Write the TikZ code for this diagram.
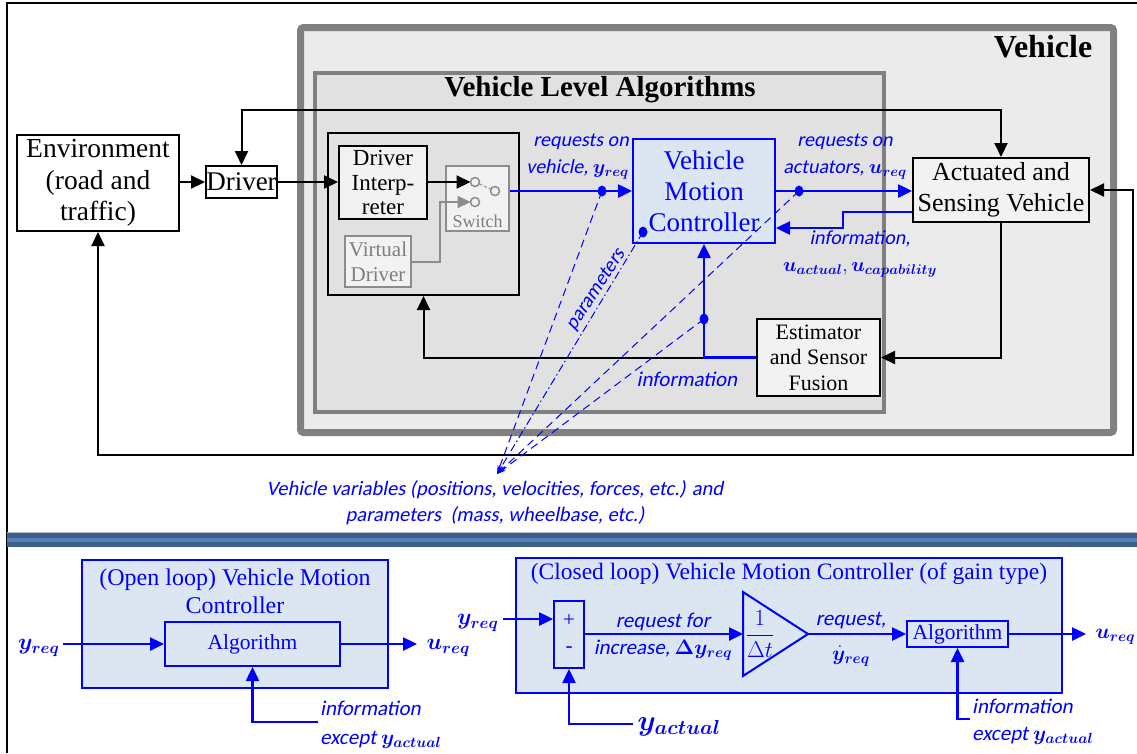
\RequirePackage{fix-cm}
\documentclass[tikz,border=0pt]{standalone}
\usepackage{amsmath, bm}
\usepackage{fontspec}
\setmainfont{Liberation Serif}
\newfontfamily\carlito{Carlito}[AutoFakeSlant=0.2]
\usetikzlibrary{arrows.meta, positioning, calc}

\definecolor{ctrlblue}{RGB}{0, 0, 255}
\definecolor{ctrlfill}{RGB}{220, 230, 242}
\definecolor{vehgray}{RGB}{128, 128, 128}
\definecolor{vehfill}{RGB}{235, 235, 235}
\definecolor{algfill}{RGB}{225, 225, 225}
\definecolor{boxfill}{RGB}{242, 242, 242}
\definecolor{swgray}{RGB}{140, 140, 140}
\definecolor{banddark}{RGB}{61, 95, 140}
\definecolor{bandlight}{RGB}{84, 128, 182}

\newcommand{\setfs}[2]{\fontsize{#1}{#2}\selectfont}

\tikzset{
  blk/.style={draw, line width=2pt, fill=boxfill, align=center, inner sep=0pt},
  ctrlbox/.style={draw=ctrlblue, line width=2pt, fill=ctrlfill, text=ctrlblue, align=center, inner sep=0pt},
  graybox/.style={draw=swgray, line width=2pt, fill=boxfill, text=swgray!90!black, align=center, inner sep=0pt},
  bluei/.style={text=ctrlblue, font={\carlito\itshape\setfs{20}{27}}, align=center, inner sep=0pt},
  arr/.style={-{Triangle[length=14pt,width=13pt]}, line width=2pt},
  arrboth/.style={{Triangle[length=14pt,width=13pt]}-{Triangle[length=14pt,width=13pt]}, line width=2pt},
  grayarr/.style={-{Triangle[length=13pt,width=12pt]}, line width=2pt, swgray},
  bline/.style={ctrlblue, line width=2.5pt},
  barr/.style={-{Triangle[length=14pt,width=13pt]}, line width=2.5pt, ctrlblue},
  vvline/.style={ctrlblue, line width=1pt, dash pattern=on 8pt off 5pt, -{Stealth[length=9pt,width=5pt]}},
  dotmark/.style={fill=ctrlblue}
}

\begin{document}
\begin{tikzpicture}[x=1pt, y=-1pt]
\useasboundingbox (0,0) rectangle (1137,753);

% frame
\draw[line width=2.5pt] (1137,3) -- (7,3) -- (7,753);

% Vehicle and algorithms boxes
\node[draw=vehgray, line width=7pt, fill=vehfill, rounded corners=3pt, minimum width=813, minimum height=405] (veh) at (707,230) {};
\node[font=\bfseries\setfs{32}{36}] (vehtitle) at (1043,47) {Vehicle};
\node[draw=vehgray, line width=4pt, fill=algfill, minimum width=569, minimum height=339] (vla) at (599.5,242.5) {};
\node[font=\bfseries\setfs{29}{32}] (vlatitle) at (600,90) {Vehicle Level Algorithms};
\node[draw, line width=2pt, minimum width=191, minimum height=162] (grp) at (423.5,214) {};

% blocks
\node[blk, fill=white, minimum width=162, minimum height=96, font=\setfs{27.5}{31.5}] (env) at (98,183) {Environment\\(road and\\traffic)};
\node[blk, fill=white, minimum width=71, minimum height=32, font=\setfs{27}{31}] (drv) at (241.5,182) {Driver};
\node[blk, minimum width=88, minimum height=73, font=\setfs{23}{24.5}] (di) at (383,182.5) {Driver\\Interp-\\reter};
\node[graybox, minimum width=63, minimum height=65] (sw) at (477.5,198.5) {};
\node[text=swgray!90!black, font=\setfs{18}{20}, inner sep=0pt] (swlab) at (477.5,221) {Switch};
\node[graybox, minimum width=66, minimum height=51, font=\setfs{21}{25}] (vd) at (378,261.5) {Virtual\\Driver};
\node[ctrlbox, minimum width=142, minimum height=104, font=\setfs{27}{31}] (vmc) at (704,191) {Vehicle\\Motion\\Controller};
\node[blk, minimum width=176, minimum height=64, font=\setfs{26}{31}] (asv) at (1001,190) {Actuated and\\Sensing Vehicle};
\node[blk, minimum width=123, minimum height=77, font=\setfs{22}{25.5}] (est) at (818.5,357.5) {Estimator\\and Sensor\\Fusion};

% switch
\coordinate (swin) at (475,182);
\coordinate (swalt) at (475,202);
\coordinate (swout) at (495,191);
\coordinate (swbend) at (440,202);
\draw[arr] (di.east |- swin) -- ([xshift=-4.5pt]swin);
\draw[grayarr] (vd.east) -| (swbend) -- ([xshift=-4.5pt]swalt);
\draw[swgray, line width=1pt, dash pattern=on 3pt off 2pt] (swin) -- (swout);
\foreach \c in {swin, swalt, swout}
  \draw[swgray, line width=1.5pt, fill=boxfill] (\c) circle[radius=4.5];

% main signal flow
\coordinate (fbtop) at (0,110);
\coordinate (fbright) at (1133,455);
\draw[arr] (env.east |- drv.west) -- (drv.west);
\draw[arr] (drv.east) -- (di.west |- drv.east);
\draw[arrboth] (drv.north) -- (drv.north |- fbtop) -| (asv.north);
\draw[arrboth] (env.south) |- (fbright) |- (asv.east);
\draw[arr] (asv.south) |- (est.east);
\coordinate (j) at (est.west -| vmc.south);
\draw[arr] (j) -| (grp.south);
\draw[bline] (est.west) -- (j);
\draw[barr] (j) -- (vmc.south);
\draw[barr] (sw.east |- vmc.west) -- (vmc.west);
\draw[barr] (vmc.east) -- (asv.west |- vmc.east);
\draw[barr] ([yshift=-22pt]asv.west) -- ++(-69,0) |- ([yshift=-37pt]vmc.east);

% signal labels
\node[bluei, align=right, anchor=east] (yreqlab) at (629,157) {requests on\\vehicle, $\bm{y}_{\bm{req}}$};
\node[bluei] (ureqlab) at (845,157) {requests on\\actuators, $\bm{u}_{\bm{req}}$};
\node[bluei] (infolab) at (860,254) {information,\\$\bm{u}_{\bm{actual}}, \bm{u}_{\bm{capability}}$};
\node[bluei, font={\carlito\itshape\setfs{21}{27}}] (estinfo) at (687,379) {information};

% vehicle variables
\coordinate (dyreq) at (602,191);
\coordinate (dureq) at (799,191);
\coordinate (dparam) at (643,232);
\coordinate (dinfo) at (704,319);
\coordinate (vv) at (497,474);
\foreach \c in {dyreq, dureq, dparam, dinfo}
  \fill[dotmark] (\c) ellipse[x radius=4.5, y radius=5.5];
\draw[vvline] (dyreq) -- (vv);
\draw[vvline] (dureq) -- (vv);
\draw[vvline] (dinfo) -- (vv);
\draw[vvline, dash pattern=on 8pt off 3pt on 1.5pt off 3pt] (dparam) -- (vv);
\node[bluei, rotate=57] (paramlab) at (596,290) {parameters};
\node[bluei, font={\carlito\itshape\setfs{20.5}{26}}] (vvtext) at (495,503) {Vehicle variables (positions, velocities, forces, etc.) and\\parameters~~(mass, wheelbase, etc.)};

% separator
\fill[banddark] (7,532) rectangle (1137,547);
\fill[bandlight] (7,538) rectangle (1137,542);
\draw[line width=1pt, color=gray!50] (7,532) -- (1137,532);

% open loop controller
\node[ctrlbox, minimum width=306, minimum height=128] (olvmc) at (235,624) {};
\node[text=ctrlblue, font=\setfs{24}{28}, align=center] (oltitle) at (235,591) {(Open loop) Vehicle Motion\\Controller};
\node[ctrlbox, minimum width=175, minimum height=44, font=\setfs{21.5}{25}] (olalg) at (252.5,644) {Algorithm};
\coordinate (olin) at (63,644);
\coordinate (olout) at (417,644);
\coordinate (olinfo) at (318,722);
\draw[barr] (olin) -- (olalg.west);
\draw[barr] (olalg.east) -- (olout);
\draw[barr] (olinfo) -| (olalg.south);
\node[text=ctrlblue, font=\setfs{23}{26}, anchor=east] (olyreq) at (63,648) {$\bm{y}_{\bm{req}}$};
\node[text=ctrlblue, font=\setfs{23}{26}, anchor=west] (olureq) at (423,648) {$\bm{u}_{\bm{req}}$};
\node[bluei, align=left, anchor=west, font={\carlito\itshape\setfs{21}{29}}] (olinfotext) at (320,725) {information\\except $\bm{y}_{\bm{actual}}$};

% closed loop controller
\node[ctrlbox, minimum width=546, minimum height=135] (clvmc) at (789,625.5) {};
\node[text=ctrlblue, font=\setfs{23.5}{26}] (cltitle) at (789,574) {(Closed loop) Vehicle Motion Controller (of gain type)};
\node[ctrlbox, minimum width=30, minimum height=67] (sum) at (569,634.5) {};
\node[text=ctrlblue, font=\setfs{21}{22}] (plus) at (569,621) {+};
\node[text=ctrlblue, font=\setfs{21}{22}] (minus) at (569,650) {-};
\coordinate (gin) at (743,634);
\coordinate (gout) at (808,634);
\draw[ctrlblue, line width=2pt, fill=ctrlfill] (743,592) -- (gout) -- (743,676) -- cycle;
\node[text=ctrlblue, font=\setfs{23}{26}] (gain) at (760,634) {$\dfrac{1}{\Delta t}$};
\node[ctrlbox, minimum width=101, minimum height=26, font=\setfs{21.5}{24}] (clalg) at (957.5,634) {Algorithm};
\coordinate (clin) at (503,619);
\coordinate (clout) at (1086,634);
\coordinate (clyact) at (633,724);
\coordinate (clinfo) at (970,719);
\draw[barr] (clin) -- (clin -| sum.west);
\draw[barr] (clyact) -| (sum.south);
\draw[barr] (sum.east |- gin) -- (gin);
\draw[barr] (gout) -- (clalg.west);
\draw[barr] (clalg.east) -- (clout);
\draw[barr] (clinfo) -| (clalg.south);
\node[text=ctrlblue, font=\setfs{23}{26}, anchor=east] (clyreq) at (502,623) {$\bm{y}_{\bm{req}}$};
\node[text=ctrlblue, font=\setfs{29}{32}, anchor=west] (clyactlab) at (634,727) {$\bm{y}_{\bm{actual}}$};
\node[bluei, font={\carlito\itshape\setfs{21}{27}}] (reqfor) at (663,622) {request for};
\node[bluei, font={\carlito\itshape\setfs{21}{27}}] (increase) at (663,650) {increase, $\bm{\Delta y}_{\bm{req}}$};
\node[bluei, font={\carlito\itshape\setfs{21}{27}}] (reqdot) at (851,621) {request,};
\node[bluei, font={\carlito\itshape\setfs{21}{27}}] (ydot) at (851,656) {$\dot{\bm{y}}_{\bm{req}}$};
\node[text=ctrlblue, font=\setfs{21}{24}, anchor=west] (clureq) at (1092,637) {$\bm{u}_{\bm{req}}$};
\node[bluei, align=left, anchor=west, font={\carlito\itshape\setfs{21}{27}}] (clinfotext) at (972,722) {information\\except $\bm{y}_{\bm{actual}}$};
\end{tikzpicture}
\end{document}
